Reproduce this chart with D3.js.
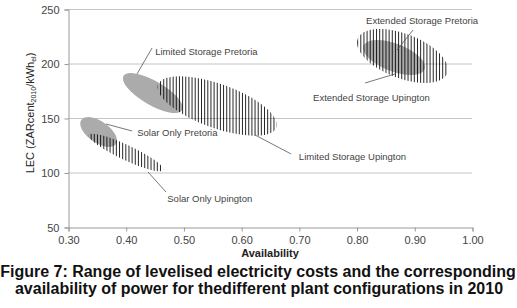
<!DOCTYPE html>
<html>
<head>
<meta charset="utf-8">
<script src="https://cdn.jsdelivr.net/npm/d3@7"></script>
<style>
  body { margin: 0; background: #fff; }
  svg { display: block; font-family: "Liberation Sans", Arial, sans-serif; }
</style>
</head>
<body>
<svg id="chart"></svg>
<script>
// tick values
const xTicks = [0.30, 0.40, 0.50, 0.60, 0.70, 0.80, 0.90, 1.00];
const yTicks = [50, 100, 150, 200, 250];

// plant configurations: each region is an ellipse given by the two ends
// of its long axis (availability, LEC) and its half-thickness in LEC
const configs = ["Solar Only", "Limited Storage", "Extended Storage"];
const pretoriaStart = [[0.323, 148.2], [0.396, 188.5], [0.812, 216.2]];
const pretoriaEnd = [[0.383, 126.1], [0.498, 157.3], [0.918, 194.8]];
const pretoriaSpread = [9.8, 11.0, 12.7];
const upingtonStart = [[0.336, 134.4], [0.456, 180.7], [0.802, 222.8]];
const upingtonEnd = [[0.465, 102.3], [0.661, 141.3], [0.957, 191.0]];
const upingtonSpread = [6.9, 20.2, 20.4];

// callout labels: text anchor, leader line from / to (availability, LEC)
const labelText = ["Limited Storage Pretoria", "Solar Only Pretoria", "Solar Only Upington",
    "Limited Storage Upington", "Extended Storage Pretoria", "Extended Storage Upington"];
const labelAt = [[0.451, 207.8], [0.420, 133.5], [0.472, 72.9], [0.700, 111.5], [0.8165, 236.2], [0.7246, 165.6]];
const leaderFrom = [[0.4456, 214.2], [0.4109, 138.1], [0.4698, 82.1], [0.6865, 117.0], [0.8979, 230.7], [0.8147, 182.1]];
const leaderTo = [[0.4196, 190.4], [0.3659, 144.5], [0.4386, 100.5], [0.6241, 134.4], [0.8702, 212.4], [0.8667, 190.4]];

const width = 517, height = 308;
const margin = { top: 9, right: 45, bottom: 81, left: 68 };

const svg = d3.select("#chart")
    .attr("width", width)
    .attr("height", height);

const x = d3.scaleLinear()
    .domain([0.30, 1.00])
    .range([margin.left, width - margin.right]);

const y = d3.scaleLinear()
    .domain([50, 250])
    .range([height - margin.bottom, margin.top]);

// gridlines
svg.append("g")
    .selectAll("line")
    .data(yTicks.filter(d => d > 50))
    .join("line")
    .attr("x1", x(0.30))
    .attr("x2", x(1.00))
    .attr("y1", d => y(d) + 0.5)
    .attr("y2", d => y(d) + 0.5)
    .attr("stroke", "#c4c4c4");

// y axis
const yAxis = svg.append("g")
    .attr("transform", `translate(${x(0.30) + 0.5}, 0.5)`)
    .call(d3.axisLeft(y).tickValues(yTicks).tickFormat(d3.format("d")).tickSize(4).tickPadding(5));
yAxis.select(".domain").attr("stroke", "#9a9a9a");
yAxis.selectAll(".tick line").attr("stroke", "#9a9a9a");
yAxis.selectAll("text")
    .attr("font-size", "11px")
    .attr("fill", "#444")
    .attr("font-family", "Liberation Sans, Arial, sans-serif");

// x axis
const xAxis = svg.append("g")
    .attr("transform", `translate(0.5, ${y(50) + 0.5})`)
    .call(d3.axisBottom(x).tickValues(xTicks).tickFormat(d3.format(".2f")).tickSize(4).tickPadding(5));
xAxis.select(".domain").attr("stroke", "#9a9a9a");
xAxis.selectAll(".tick line").attr("stroke", "#9a9a9a");
xAxis.selectAll("text")
    .attr("font-size", "11px")
    .attr("fill", "#444")
    .attr("font-family", "Liberation Sans, Arial, sans-serif");

// turn a long axis + spread into a pixel ellipse
function ellipseOf(start, end, spread) {
    const x1 = x(start[0]), y1 = y(start[1]);
    const x2 = x(end[0]), y2 = y(end[1]);
    return {
        cx: (x1 + x2) / 2,
        cy: (y1 + y2) / 2,
        rx: Math.hypot(x2 - x1, y2 - y1) / 2,
        ry: y(50) - y(50 + spread),
        angle: Math.atan2(y2 - y1, x2 - x1) * 180 / Math.PI
    };
}

const defs = svg.append("defs");

configs.forEach((name, i) => {
    // Pretoria: solid grey
    const p = ellipseOf(pretoriaStart[i], pretoriaEnd[i], pretoriaSpread[i]);
    svg.append("ellipse")
        .attr("cx", p.cx)
        .attr("cy", p.cy)
        .attr("rx", p.rx)
        .attr("ry", p.ry)
        .attr("transform", `rotate(${p.angle} ${p.cx} ${p.cy})`)
        .attr("fill", "#ababab");
});

configs.forEach((name, i) => {
    // Upington: vertical hatching clipped to the ellipse
    const u = ellipseOf(upingtonStart[i], upingtonEnd[i], upingtonSpread[i]);
    const clipId = "clip" + i;
    defs.append("clipPath")
        .attr("id", clipId)
        .append("ellipse")
        .attr("cx", u.cx)
        .attr("cy", u.cy)
        .attr("rx", u.rx)
        .attr("ry", u.ry)
        .attr("transform", `rotate(${u.angle} ${u.cx} ${u.cy})`);

    const xs = d3.range(u.cx - u.rx, u.cx + u.rx, 3.15);
    svg.append("g")
        .attr("clip-path", `url(#${clipId})`)
        .selectAll("line")
        .data(xs)
        .join("line")
        .attr("x1", d => d)
        .attr("x2", d => d)
        .attr("y1", u.cy - u.rx)
        .attr("y2", u.cy + u.rx)
        .attr("stroke", "#000")
        .attr("stroke-width", 0.85);
});

// callouts
labelText.forEach((t, i) => {
    svg.append("line")
        .attr("x1", x(leaderFrom[i][0]))
        .attr("y1", y(leaderFrom[i][1]))
        .attr("x2", x(leaderTo[i][0]))
        .attr("y2", y(leaderTo[i][1]))
        .attr("stroke", "#555")
        .attr("stroke-width", 0.8);

    svg.append("text")
        .attr("x", x(labelAt[i][0]))
        .attr("y", y(labelAt[i][1]))
        .attr("font-size", "9.5px")
        .attr("fill", "#444")
        .text(t);
});

// axis titles
svg.append("text")
    .attr("x", 270)
    .attr("y", 257)
    .attr("text-anchor", "middle")
    .attr("font-size", "11px")
    .attr("font-weight", "bold")
    .attr("fill", "#222")
    .text("Availability");

const yTitle = svg.append("text")
    .attr("transform", "translate(34, 113) rotate(-90)")
    .attr("text-anchor", "middle")
    .attr("font-size", "11px")
    .attr("fill", "#222");
yTitle.append("tspan").text("LEC (ZARcent");
yTitle.append("tspan").attr("font-size", "7px").attr("dy", 2).text("2010");
yTitle.append("tspan").attr("dy", -2).text("/kWh");
yTitle.append("tspan").attr("font-size", "7px").attr("dy", 2).text("el");
yTitle.append("tspan").attr("dy", -2).text(")");

// caption
const caption = svg.append("text")
    .attr("text-anchor", "middle")
    .attr("font-size", "16px")
    .attr("font-weight", "bold")
    .attr("fill", "#111");
caption.append("tspan")
    .attr("x", 258)
    .attr("y", 277)
    .text("Figure 7: Range of levelised electricity costs and the corresponding");
caption.append("tspan")
    .attr("x", 259)
    .attr("y", 294)
    .text("availability of power for thedifferent plant configurations in 2010");
</script>
</body>
</html>
